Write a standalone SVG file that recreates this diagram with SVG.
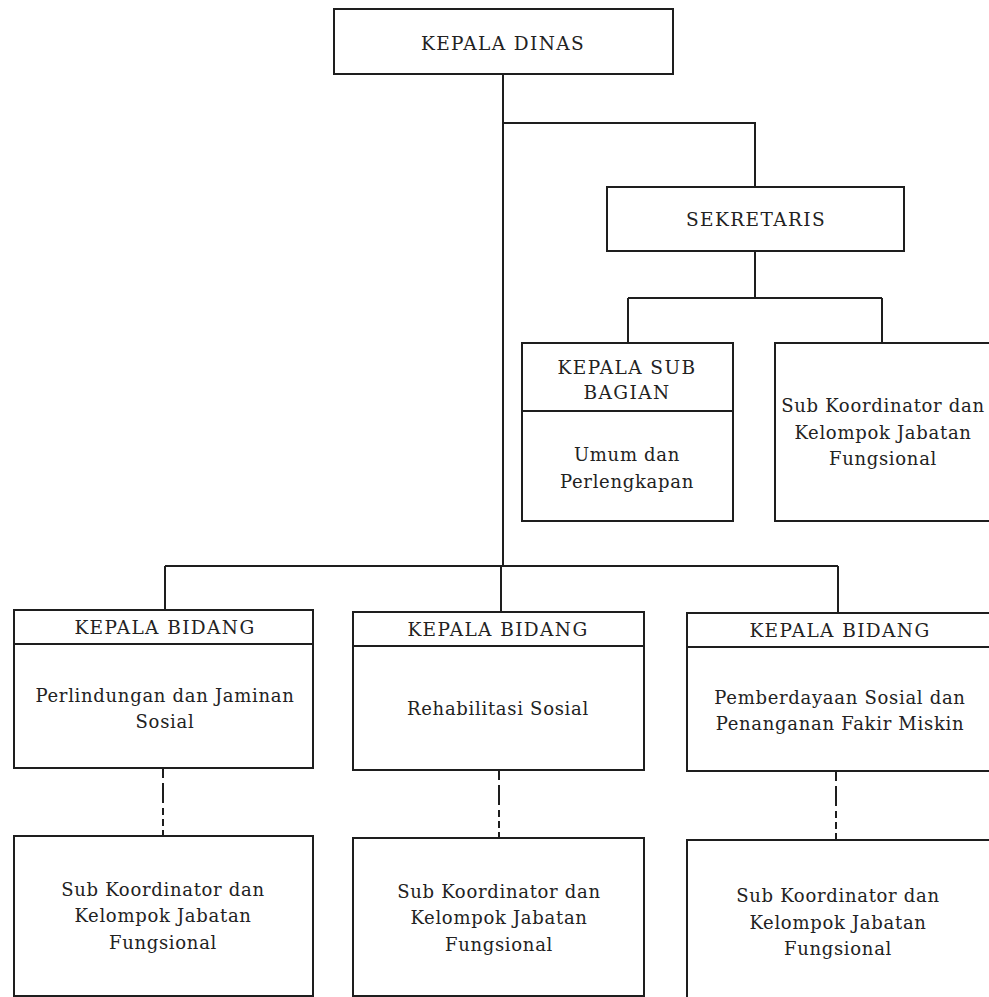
<svg xmlns="http://www.w3.org/2000/svg" width="989" height="997" viewBox="0 0 989 997">
  <style>
    .box { fill: #ffffff; stroke: #1e1e1e; stroke-width: 2; }
    .div { stroke: #1e1e1e; stroke-width: 2; fill: none; }
    .link { stroke: #1e1e1e; stroke-width: 2; fill: none; }
    .dash { stroke: #1e1e1e; stroke-width: 2; fill: none; stroke-dasharray: 9 5 20 5 7 4 7 4 8 4; }
    text { font-family: "DejaVu Serif", "Liberation Serif", serif; font-size: 18px; letter-spacing: 0.7px; fill: #222; text-anchor: middle; }
    text.cap { font-size: 18.5px; letter-spacing: 1.4px; }
  </style>
  <rect width="989" height="997" fill="#ffffff"/>

  <!-- connectors -->
  <g id="connectors">
    <path class="link" d="M503 74 V566"/>
    <path class="link" d="M503 123 H755 V187"/>
    <path class="link" d="M755 251 V298"/>
    <path class="link" d="M628 298 H882"/>
    <path class="link" d="M628 298 V343"/>
    <path class="link" d="M882 298 V343"/>
    <path class="link" d="M165 566 H838"/>
    <path class="link" d="M165 566 V610"/>
    <path class="link" d="M501 566 V612"/>
    <path class="link" d="M838 566 V613"/>
    <path class="dash" d="M163 769 V836"/>
    <path class="dash" d="M499 771 V838"/>
    <path class="dash" d="M836 772 V840"/>
  </g>

  <g id="kepala-dinas">
    <rect class="box" x="334" y="9" width="339" height="65"/>
    <text class="cap" x="503" y="50">KEPALA DINAS</text>
  </g>

  <g id="sekretaris">
    <rect class="box" x="607" y="187" width="297" height="64"/>
    <text class="cap" x="756" y="226">SEKRETARIS</text>
  </g>

  <g id="kasubag-umum">
    <rect class="box" x="522" y="343" width="211" height="178"/>
    <line class="div" x1="522" y1="411" x2="733" y2="411"/>
    <text class="cap" x="627" y="374">KEPALA SUB</text>
    <text class="cap" x="627" y="399">BAGIAN</text>
    <text x="627" y="461">Umum dan</text>
    <text x="627" y="488">Perlengkapan</text>
  </g>

  <g id="jafung-sekretariat">
    <rect class="box" x="775" y="343" width="216" height="178"/>
    <text x="883" y="412">Sub Koordinator dan</text>
    <text x="883" y="439">Kelompok Jabatan</text>
    <text x="883" y="465">Fungsional</text>
  </g>

  <g id="bidang-linjamsos">
    <rect class="box" x="14" y="610" width="299" height="158"/>
    <line class="div" x1="14" y1="644" x2="313" y2="644"/>
    <text class="cap" x="165" y="634">KEPALA BIDANG</text>
    <text x="165" y="702">Perlindungan dan Jaminan</text>
    <text x="165" y="728">Sosial</text>
  </g>

  <g id="bidang-rehsos">
    <rect class="box" x="353" y="612" width="291" height="158"/>
    <line class="div" x1="353" y1="646" x2="644" y2="646"/>
    <text class="cap" x="498" y="636">KEPALA BIDANG</text>
    <text x="498" y="715">Rehabilitasi Sosial</text>
  </g>

  <g id="bidang-dayasos">
    <rect class="box" x="687" y="613" width="304" height="158"/>
    <line class="div" x1="687" y1="647" x2="991" y2="647"/>
    <text class="cap" x="840" y="637">KEPALA BIDANG</text>
    <text x="840" y="704">Pemberdayaan Sosial dan</text>
    <text x="840" y="730">Penanganan Fakir Miskin</text>
  </g>

  <g id="jafung-linjamsos">
    <rect class="box" x="14" y="836" width="299" height="160"/>
    <text x="163" y="896">Sub Koordinator dan</text>
    <text x="163" y="922">Kelompok Jabatan</text>
    <text x="163" y="949">Fungsional</text>
  </g>

  <g id="jafung-rehsos">
    <rect class="box" x="353" y="838" width="291" height="158"/>
    <text x="499" y="898">Sub Koordinator dan</text>
    <text x="499" y="924">Kelompok Jabatan</text>
    <text x="499" y="951">Fungsional</text>
  </g>

  <g id="jafung-dayasos">
    <rect class="box" x="687" y="840" width="304" height="158"/>
    <text x="838" y="902">Sub Koordinator dan</text>
    <text x="838" y="929">Kelompok Jabatan</text>
    <text x="838" y="955">Fungsional</text>
  </g>
</svg>
